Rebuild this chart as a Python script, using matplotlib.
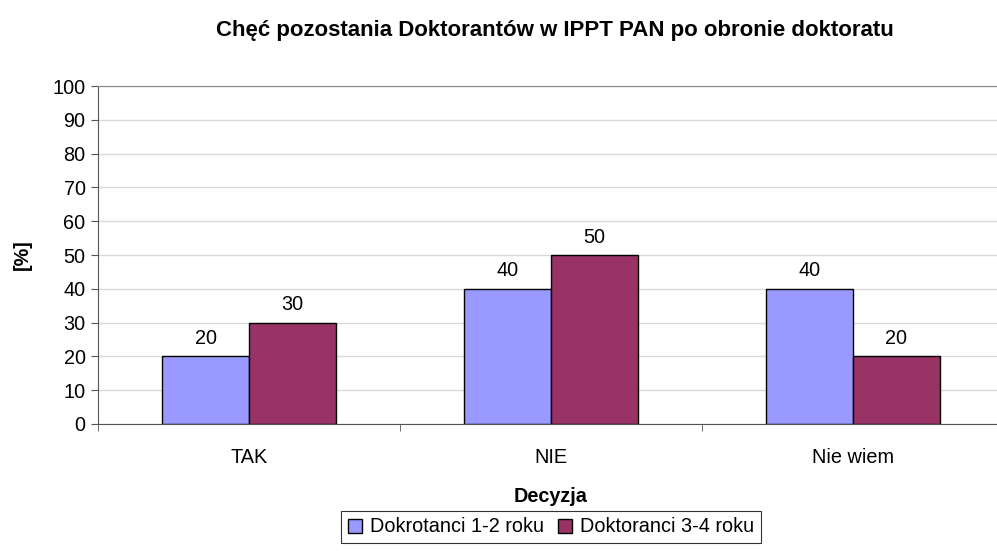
import numpy as np
import matplotlib.pyplot as plt

plt.rcParams['font.family'] = ['Liberation Sans', 'DejaVu Sans']

categories = ['TAK', 'NIE', 'Nie wiem']
years_12 = [20, 40, 40]
years_34 = [30, 50, 20]
series_names = ['Dokrotanci 1-2 roku', 'Doktoranci 3-4 roku']

fs = 14.3

fig = plt.figure(figsize=(9.97, 5.51), dpi=100)
ax = fig.add_axes([0.0983, 0.2305, 0.9087, 0.6134])

x = np.arange(len(categories))
w = 0.288
b1 = ax.bar(x - w / 2, years_12, w, color='#9999FF', edgecolor='black', linewidth=1, label=series_names[0], zorder=3)
b2 = ax.bar(x + w / 2, years_34, w, color='#993366', edgecolor='black', linewidth=1, label=series_names[1], zorder=3)
for bars in (b1, b2):
    for r in bars:
        ax.annotate(f'{r.get_height():.0f}', (r.get_x() + r.get_width() / 2, r.get_height()),
                    xytext=(0, 6), textcoords='offset points', ha='center', va='bottom', fontsize=fs)

ax.set_xlim(-0.5, 2.5)
ax.set_ylim(0, 100)
ax.set_yticks(range(0, 101, 10))
ax.set_xticks(x)
ax.set_xticklabels(categories)
ax.set_xticks([-0.5, 0.5, 1.5, 2.5], minor=True)
ax.tick_params(axis='x', which='major', length=0, pad=17, labelsize=fs)
ax.tick_params(axis='x', which='minor', length=5, color='#555555')
ax.tick_params(axis='y', length=5, color='#555555', labelsize=fs, pad=4)

ax.yaxis.grid(True, color='#d9d9d9', linewidth=1, zorder=0)
ax.spines['right'].set_visible(False)
ax.spines['top'].set_color('#888888')
ax.spines['left'].set_color('#555555')
ax.spines['bottom'].set_color('#555555')
ax.spines['bottom'].set_zorder(4)

ax.set_ylabel('[%]', fontsize=fs, fontweight='bold', labelpad=15)
ax.set_xlabel('Decyzja', fontsize=fs, fontweight='bold', labelpad=15)
fig.suptitle('Chęć pozostania Doktorantów w IPPT PAN po obronie doktoratu', x=0.557, y=0.963,
             fontsize=16, fontweight='bold')

leg = fig.legend(loc='center', bbox_to_anchor=(0.5527, 1 - 527 / 551), ncol=2, fontsize=fs,
                 frameon=True, fancybox=False, edgecolor='black', handlelength=0.7, handleheight=0.7,
                 handletextpad=0.4, columnspacing=0.7, borderpad=0.35)
leg.get_frame().set_linewidth(0.8)

fig.savefig('out.png', dpi=100)
